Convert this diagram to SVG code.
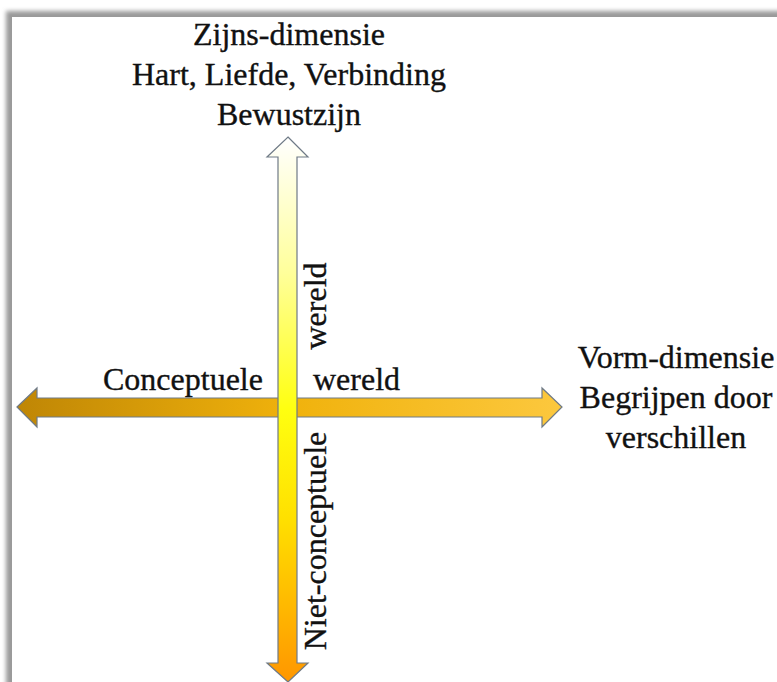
<svg xmlns="http://www.w3.org/2000/svg" width="777" height="682" viewBox="0 0 777 682">
  <defs>
    <filter id="blur" x="-5%" y="-5%" width="110%" height="110%">
      <feGaussianBlur stdDeviation="2"/>
    </filter>
    <linearGradient id="hgrad" x1="0" y1="0" x2="1" y2="0">
      <stop offset="0" stop-color="#bf8605"/>
      <stop offset="0.5" stop-color="#f0b20c"/>
      <stop offset="1" stop-color="#fcc83e"/>
    </linearGradient>
    <linearGradient id="vgrad" x1="0" y1="0" x2="0" y2="1">
      <stop offset="0" stop-color="#ffffff"/>
      <stop offset="0.25" stop-color="#ffff9a"/>
      <stop offset="0.5" stop-color="#ffff10"/>
      <stop offset="0.7" stop-color="#ffe000"/>
      <stop offset="1" stop-color="#ff9600"/>
    </linearGradient>
    <style>
      .t { font-family: 'Liberation Serif', 'Times New Roman', serif; font-size: 32px; fill: #111; stroke: #111; stroke-width: 0.35; }
      .m { text-anchor: middle; }
      .arrow { stroke: #6f7a86; stroke-width: 1.2; }
    </style>
  </defs>

  <rect width="777" height="682" fill="#ffffff"/>
  <g id="frame">
    <rect x="6" y="11" width="800" height="700" fill="#9a9a9a" filter="url(#blur)"/>
    <rect x="12" y="17" width="800" height="700" fill="#ffffff"/>
  </g>

  <g id="connectors">
    <polygon id="h-arrow" class="arrow" fill="url(#hgrad)"
      points="17,407 37,388 37,398 542,398 542,388 562,407 542,427 542,417 37,417 37,427"/>
    <polygon id="v-arrow" class="arrow" fill="url(#vgrad)"
      points="288,137 308,157 297,157 297,663 308,663 288,682 267,663 278,663 278,157 267,157"/>
  </g>

  <g id="top-node">
    <text class="t m" x="289" y="45">Zijns-dimensie</text>
    <text class="t m" x="289" y="85">Hart, Liefde, Verbinding</text>
    <text class="t m" x="289" y="125">Bewustzijn</text>
  </g>

  <g id="right-node">
    <text class="t m" x="676" y="368">Vorm-dimensie</text>
    <text class="t m" x="676" y="408">Begrijpen door</text>
    <text class="t m" x="676" y="448">verschillen</text>
  </g>

  <g id="labels">
    <text class="t" x="103" y="390">Conceptuele</text>
    <text class="t" x="313" y="390">wereld</text>
    <text class="t m" transform="translate(326,306) rotate(-90)">wereld</text>
    <text class="t m" transform="translate(326,541) rotate(-90)">Niet-conceptuele</text>
  </g>
</svg>
